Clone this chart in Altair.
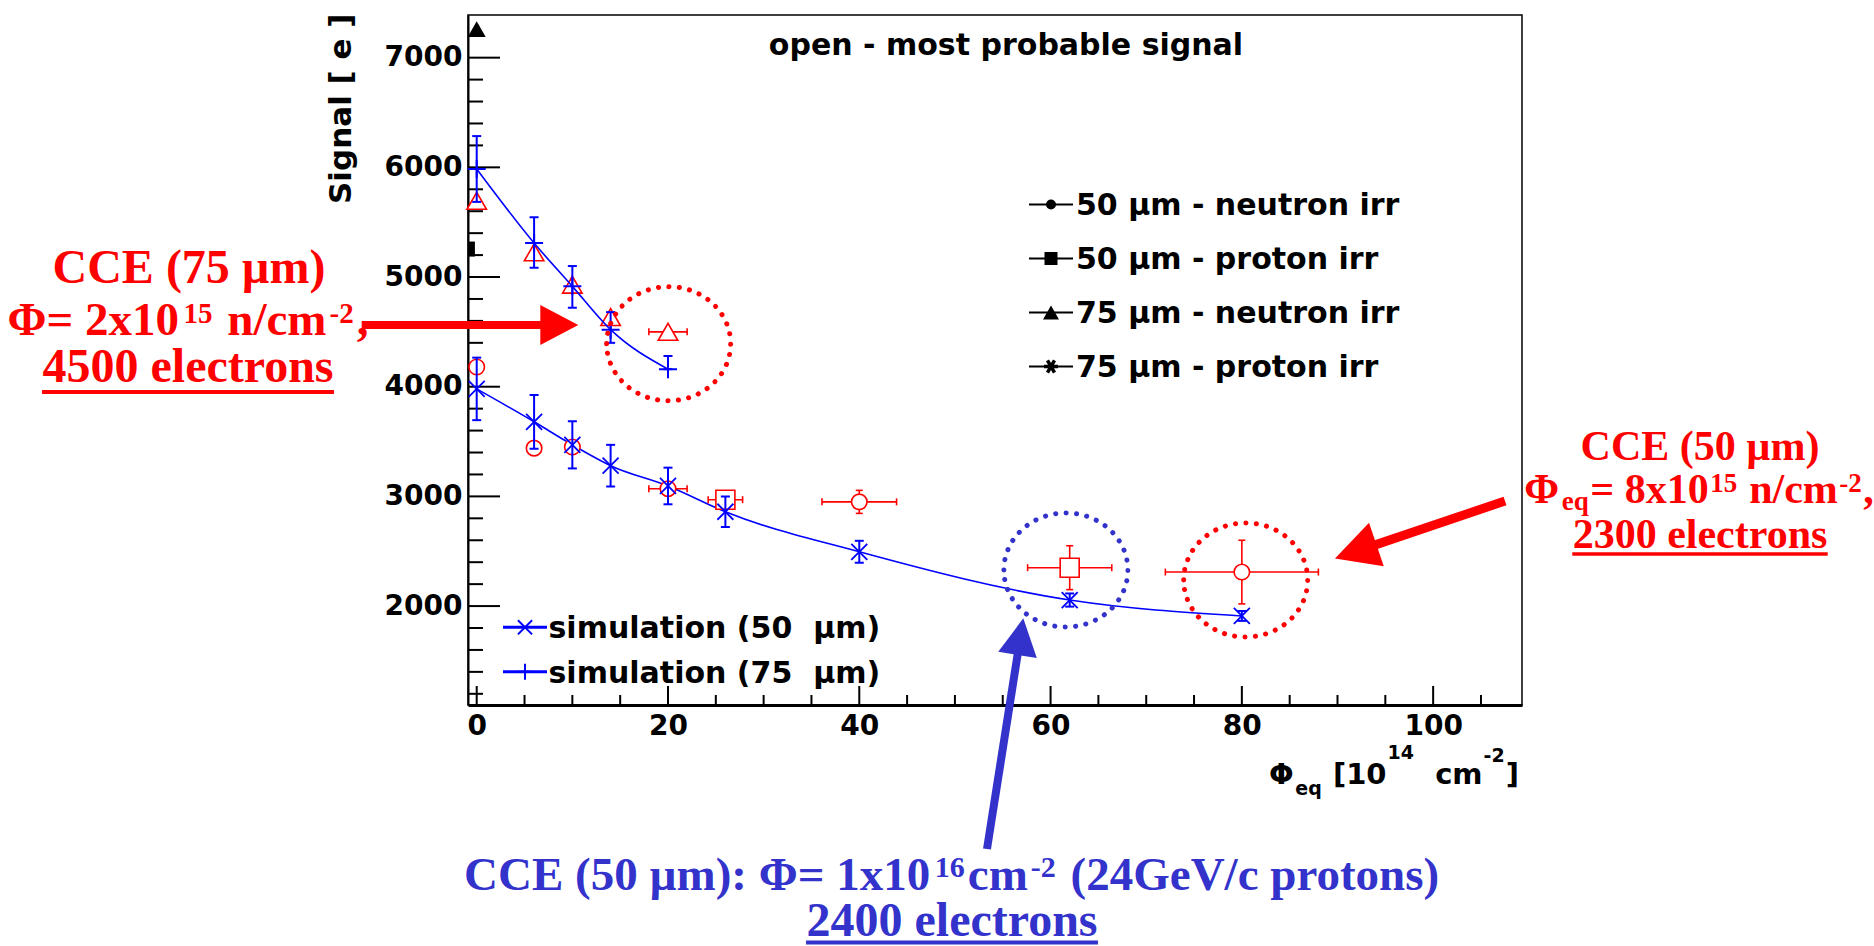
import math
import altair as alt
import pandas as pd

# ---------------- data ----------------
sim50_x = [0, 6, 10, 14, 20, 26, 40, 62, 80]
sim50_y = [3980, 3680, 3470, 3280, 3095, 2860, 2495, 2055, 1910]
sim50_err = [285, 245, 215, 190, 167, 140, 100, 60, 45]

sim75_x = [0, 6, 10, 14, 20]
sim75_y = [5985, 5310, 4915, 4520, 4160]
sim75_err_up = [300, 235, 185, 160, 120]
sim75_err_dn = [300, 225, 195, 120, 0]

n50_x = [0, 6, 10, 20, 40, 80]
n50_y = [4180, 3440, 3450, 3070, 2950, 2310]
n50_xerr = [0, 0, 0, 2, 3.9, 8]
n50_yerr = [0, 0, 0, 0, 105, 290]

p50_x = [26, 62]
p50_y = [2970, 2350]
p50_xerr = [1.8, 4.4]
p50_yerr = [0, 200]

n75_x = [0, 6, 10, 14, 20]
n75_y = [5695, 5225, 4930, 4635, 4500]
n75_xerr = [0, 0, 0, 0, 2]

stray_tri_x, stray_tri_y = [0], [7260]
stray_sq_x, stray_sq_y = [-0.54], [5255]

ring_x = [20.07, 80.4, 61.6]
ring_y = [4392, 2238, 2329]
ring_col = ["#ff0000", "#ff0000", "#3333cc"]

x_major = [0, 20, 40, 60, 80, 100]
x_minor = [5, 10, 15, 25, 30, 35, 45, 50, 55, 65, 70, 75, 85, 90, 95, 105]
y_major = [2000, 3000, 4000, 5000, 6000, 7000]
y_minor = [1200, 1400, 1600, 1800, 2200, 2400, 2600, 2800, 3200, 3400, 3600, 3800,
           4200, 4400, 4600, 4800, 5200, 5400, 5600, 5800, 6200, 6400, 6600, 6800, 7200]

# ---------------- layout ----------------
L, T, W, H = 468, 15, 1054, 690
XS = alt.Scale(domain=[-0.91, 109.29], nice=False, zero=False)
YS = alt.Scale(domain=[1098, 7389], nice=False, zero=False)
BLUE = "#0000ff"
RED = "#ff0000"
ABLUE = "#3333cc"
SANS = "DejaVu Sans"
SERIF = "Liberation Serif"
NB = "\u00a0"
ONE = alt.Data(values=[{"k": 0}])

TIMES_W = {' ': .25, '(': .333, ')': .333, ',': .25, '-': .333, '/': .278, ':': .333, '=': .57,
           'Φ': .86, 'µ': .58, 'C': .722, 'E': .667, 'G': .778, 'V': .722, 'a': .5, 'b': .556,
           'c': .444, 'e': .444, 'l': .278, 'm': .833, 'n': .556, 'o': .5, 'p': .556, 'q': .556,
           'r': .444, 's': .389, 't': .333, 'x': .5}
DEJ_W = {' ': .348, '(': .458, ')': .458, '-': .416, '[': .458, ']': .458, 'Φ': .87, 'µ': .721,
         'c': .593, 'e': .678, 'm': 1.042, 'q': .716}

AX = alt.Axis(values=x_major, ticks=False, grid=False, domainColor="black", domainWidth=3,
              labelFont=SANS, labelFontWeight="bold", labelFontSize=28, labelColor="black",
              labelPadding=7, labelFlush=False, labelOverlap=False, title=None, format="d")
AY = alt.Axis(values=y_major, ticks=False, grid=False, domainColor="black", domainWidth=2,
              labelFont=SANS, labelFontWeight="bold", labelFontSize=28, labelColor="black",
              labelPadding=6, labelFlush=False, labelOverlap=False, format="d",
              title="Signal [ e ]", titleFont=SANS, titleFontWeight="bold", titleFontSize=31,
              titleColor="black", titleAngle=270, titleAlign="right", titleBaseline="alphabetic",
              titleX=-118, titleY=-2)


def X(f="x"):
    return alt.X(f + ":Q", scale=XS, axis=AX)


def Y(f="y"):
    return alt.Y(f + ":Q", scale=YS, axis=AY)


def width(s, table, size, digit):
    return sum(table.get(ch, digit if ch.isdigit() else 0.55) for ch in s) * size


def txt(s, fx, fy, size, color, font, align="left"):
    return alt.Chart(ONE).mark_text(text=s, font=font, fontWeight="bold", fontSize=size,
                                    color=color, align=align, baseline="alphabetic").encode(
        x=alt.value(fx - L), y=alt.value(fy - T))


def seg(x1, y1, x2, y2, color, sw):
    return alt.Chart(ONE).mark_rule(color=color, strokeWidth=sw, strokeCap="butt").encode(
        x=alt.value(x1 - L), y=alt.value(y1 - T), x2=alt.value(x2 - L), y2=alt.value(y2 - T))


def sym(fx, fy, shape, size, color, angle=0, filled=True, sw=0):
    return alt.Chart(ONE).mark_point(shape=shape, size=size, filled=filled, color=color,
                                     angle=angle, strokeWidth=sw, opacity=1).encode(
        x=alt.value(fx - L), y=alt.value(fy - T))


def rich(segments, cx, base, table, digit, font, color, right=None, gap=2.5):
    tot = sum(width(t, table, s, digit) for t, s, d in segments) + gap * (len(segments) - 1)
    x = (right - tot) if right is not None else cx - tot / 2
    out = []
    for t, s, d in segments:
        lead = len(t) - len(t.lstrip(" "))
        x0 = x + width(" " * lead, table, s, digit)
        out.append(txt(t.strip(" "), x0, base + d, s, color, font))
        x += width(t, table, s, digit) + gap
    return out


def underlined(s, cx, base, size, color, uy, uw):
    w = width(s, TIMES_W, size, .5)
    return [txt(s, cx, base, size, color, SERIF, "center"), seg(cx - w / 2, uy, cx + w / 2, uy, color, uw)]


HEAD = "M 1 0 L -0.9 -1 L -0.9 1 Z"


def arrow(x0, y0, tx, ty, r, color, sw):
    dx, dy = tx - x0, ty - y0
    d = math.hypot(dx, dy)
    ux, uy = dx / d, dy / d
    ang = math.degrees(math.atan2(dy, dx)) % 360
    cx, cy = tx - r * ux, ty - r * uy
    return [seg(x0, y0, cx, cy, color, sw), sym(cx, cy, HEAD, (2 * r) ** 2, color, ang)]


# ---------------- tables ----------------
s50 = pd.DataFrame({"x": sim50_x, "y": sim50_y, "e": sim50_err})
s50["lo"] = s50.y - s50.e
s50["hi"] = s50.y + s50.e
s75 = pd.DataFrame({"x": sim75_x, "y": sim75_y, "u": sim75_err_up, "d": sim75_err_dn})
s75["lo"] = s75.y - s75.d
s75["hi"] = s75.y + s75.u


def red_df(xs, ys, xe, ye):
    df = pd.DataFrame({"x": xs, "y": ys, "xe": xe, "ye": ye})
    df["xlo"], df["xhi"] = df.x - df.xe, df.x + df.xe
    df["lo"], df["hi"] = df.y - df.ye, df.y + df.ye
    return df


n50 = red_df(n50_x, n50_y, n50_xerr, n50_yerr)
p50 = red_df(p50_x, p50_y, p50_xerr, p50_yerr)
n75 = red_df(n75_x, n75_y, n75_xerr, [0] * len(n75_x))
reds = pd.concat([n50, p50, n75], ignore_index=True)
rv = reds[reds.ye > 0]
rh = reds[reds.xe > 0]

layers = []

# simulation curve first: carries the axes
layers.append(alt.Chart(s50).mark_line(color=BLUE, strokeWidth=1.6, interpolate="monotone").encode(
    x=X(), y=Y()))

# ticks (inward, ROOT style)
layers.append(alt.Chart(pd.DataFrame({"x": x_major})).mark_rule(color="black", strokeWidth=2).encode(
    x=X(), y=alt.value(H), y2=alt.value(H - 19)))
layers.append(alt.Chart(pd.DataFrame({"x": x_minor})).mark_rule(color="black", strokeWidth=2).encode(
    x=X(), y=alt.value(H), y2=alt.value(H - 10)))
layers.append(alt.Chart(pd.DataFrame({"y": y_major})).mark_rule(color="black", strokeWidth=2).encode(
    y=Y(), x=alt.value(0), x2=alt.value(32)))
layers.append(alt.Chart(pd.DataFrame({"y": y_minor})).mark_rule(color="black", strokeWidth=2).encode(
    y=Y(), x=alt.value(0), x2=alt.value(15)))

# red measurement error bars
layers.append(alt.Chart(rv).mark_rule(color=RED, strokeWidth=1.6).encode(x=X(), y=Y("lo"), y2="hi:Q"))
layers.append(alt.Chart(rv).transform_fold(["lo", "hi"], as_=["k", "y"]).mark_tick(
    orient="horizontal", size=7, thickness=1.6, color=RED, opacity=1).encode(x=X(), y=Y()))
layers.append(alt.Chart(rh).mark_rule(color=RED, strokeWidth=1.6).encode(x=X("xlo"), x2="xhi:Q", y=Y()))
layers.append(alt.Chart(rh).transform_fold(["xlo", "xhi"], as_=["k", "x"]).mark_tick(
    orient="vertical", size=7, thickness=1.6, color=RED, opacity=1).encode(x=X(), y=Y()))

# red markers (open)
layers.append(alt.Chart(n50).mark_point(shape="circle", size=240, filled=True, fill="white",
              stroke=RED, strokeWidth=1.6, opacity=1).encode(x=X(), y=Y()))
layers.append(alt.Chart(p50).mark_point(shape="square", size=361, filled=True, fill="white",
              stroke=RED, strokeWidth=1.6, opacity=1).encode(x=X(), y=Y()))
layers.append(alt.Chart(n75).mark_point(shape="triangle-up", size=380, filled=True, fill="white",
              stroke=RED, strokeWidth=1.6, opacity=1).encode(x=X(), y=Y()))

# 75 um simulation curve
layers.append(alt.Chart(s75).mark_line(color=BLUE, strokeWidth=1.6, interpolate="monotone").encode(
    x=X(), y=Y()))

for df in (s50, s75):
    layers.append(alt.Chart(df).mark_rule(color=BLUE, strokeWidth=2).encode(x=X(), y=Y("lo"), y2="hi:Q"))
    layers.append(alt.Chart(df).transform_fold(["lo", "hi"], as_=["k", "y"]).mark_tick(
        orient="horizontal", size=9, thickness=2, color=BLUE, opacity=1).encode(x=X(), y=Y()))

XPATH = "M -1 -1 L 1 1 M -1 1 L 1 -1"
PPATH = "M -1 0 L 1 0 M 0 -1 L 0 1"
layers.append(alt.Chart(s50).mark_point(shape=XPATH, size=256, filled=False, color=BLUE,
              strokeWidth=1.8, opacity=1).encode(x=X(), y=Y()))
layers.append(alt.Chart(s75).mark_point(shape=PPATH, size=324, filled=False, color=BLUE,
              strokeWidth=2, opacity=1).encode(x=X(), y=Y()))

# stray black markers at the left edge
layers.append(alt.Chart(pd.DataFrame({"x": stray_tri_x, "y": stray_tri_y})).mark_point(
    shape="triangle-up", size=324, filled=True, color="black", opacity=1).encode(x=X(), y=Y()))
layers.append(alt.Chart(pd.DataFrame({"x": stray_sq_x, "y": stray_sq_y})).mark_point(
    shape="M -0.45 -1 L 0.45 -1 L 0.45 1 L -0.45 1 Z", size=225, filled=True, color="black",
    opacity=1).encode(x=X(), y=Y()))

# dotted rings
ELL = "M -1 0 A 1 0.92 0 1 1 1 0 A 1 0.92 0 1 1 -1 0 Z"
layers.append(alt.Chart(pd.DataFrame({"x": ring_x, "y": ring_y, "c": ring_col})).mark_point(
    shape=ELL, size=124 ** 2, filled=False, strokeWidth=5, strokeCap="round",
    strokeDash=[0.1, 10.3], opacity=1).encode(x=X(), y=Y(), color=alt.Color("c:N", scale=None)))

# title
layers.append(txt("open - most probable signal", 1006, 55, 30, "black", SANS, "center"))

# x-axis title
layers += rich([("Φ", 29, 0), ("eq", 19, 11), (" [10", 29, 0), ("14", 19, -25),
                ("  cm", 29, 0), ("-2", 19, -22), ("]", 29, 0)],
               None, 784, DEJ_W, .696, SANS, "black", right=1519, gap=1)

# legend (upper right)
leg = [("50 µm - neutron irr", "circle", 100, 0),
       ("50 µm - proton irr", "square", 169, 0),
       ("75 µm - neutron irr", "triangle-up", 256, 0),
       ("75 µm - proton irr", "M -1 0 L 1 0 M -0.5 -0.87 L 0.5 0.87 M -0.5 0.87 L 0.5 -0.87", 196, 3.5)]
for i, (lab, shp, sz, sw) in enumerate(leg):
    base = 215 + 54 * i
    my = base - 10.5
    layers.append(seg(1029, my, 1073, my, "black", 2))
    layers.append(sym(1051, my, shp, sz, "black", 0, filled=(sw == 0), sw=sw))
    layers.append(txt(lab, 1076, base, 30, "black", SANS))

# legend (lower left)
for i, (lab, shp, sz) in enumerate([("simulation (50" + NB + NB + "µm)", XPATH, 200),
                                    ("simulation (75" + NB + NB + "µm)", PPATH, 260)]):
    my = 627.3 + 44.4 * i
    layers.append(seg(503, my, 547, my, BLUE, 3))
    layers.append(sym(525, my, shp, sz, BLUE, 0, filled=False, sw=2))
    layers.append(txt(lab, 548.5, my + 11, 30, "black", SANS))

# annotation: left (red)
layers.append(txt("CCE (75 µm)", 189, 283, 48, RED, SERIF, "center"))
layers += rich([("Φ= 2x10", 47, 0), ("15", 29, -12), (" n/cm", 47, 0), ("-2", 29, -12), (",", 47, 0)],
               188, 335, TIMES_W, .5, SERIF, RED, gap=3)
layers += underlined("4500 electrons", 188, 382, 48, RED, 392, 4)
layers += arrow(361.7, 325, 578.3, 325, 20, RED, 8)

# annotation: right (red)
layers.append(txt("CCE (50 µm)", 1700, 460, 42, RED, SERIF, "center"))
layers += rich([("Φ", 42, 0), ("eq", 27, 7), ("= 8x10", 42, 0), ("15", 27, -11), (" n/cm", 42, 0),
                ("-2", 27, -11), (",", 42, 0)], 1699, 503, TIMES_W, .5, SERIF, RED, gap=1.5)
layers += underlined("2300 electrons", 1700, 548, 42, RED, 554, 3.5)
layers += arrow(1505, 501, 1335, 558.5, 23, RED, 9)

# annotation: bottom (blue)
layers += rich([("CCE (50 µm): Φ= 1x10", 47, 0), ("16", 30, -13), ("cm", 47, 0), ("-2", 30, -13),
                (" (24GeV/c protons)", 47, 0)], 952, 890, TIMES_W, .5, SERIF, ABLUE, gap=3)
layers += underlined("2400 electrons", 952, 936, 48, ABLUE, 942.5, 4)
layers += arrow(987, 849, 1023.3, 618.3, 19.5, ABLUE, 8)

chart = alt.layer(*layers).properties(
    width=W, height=H,
    autosize=alt.AutoSizeParams(type="none"),
    padding={"left": L, "top": T, "right": 1874 - L - W, "bottom": 946 - T - H},
    background="white",
).configure_view(stroke="black", strokeWidth=1.5)

chart.save("out.html", embed_options={"renderer": "svg", "actions": False})
